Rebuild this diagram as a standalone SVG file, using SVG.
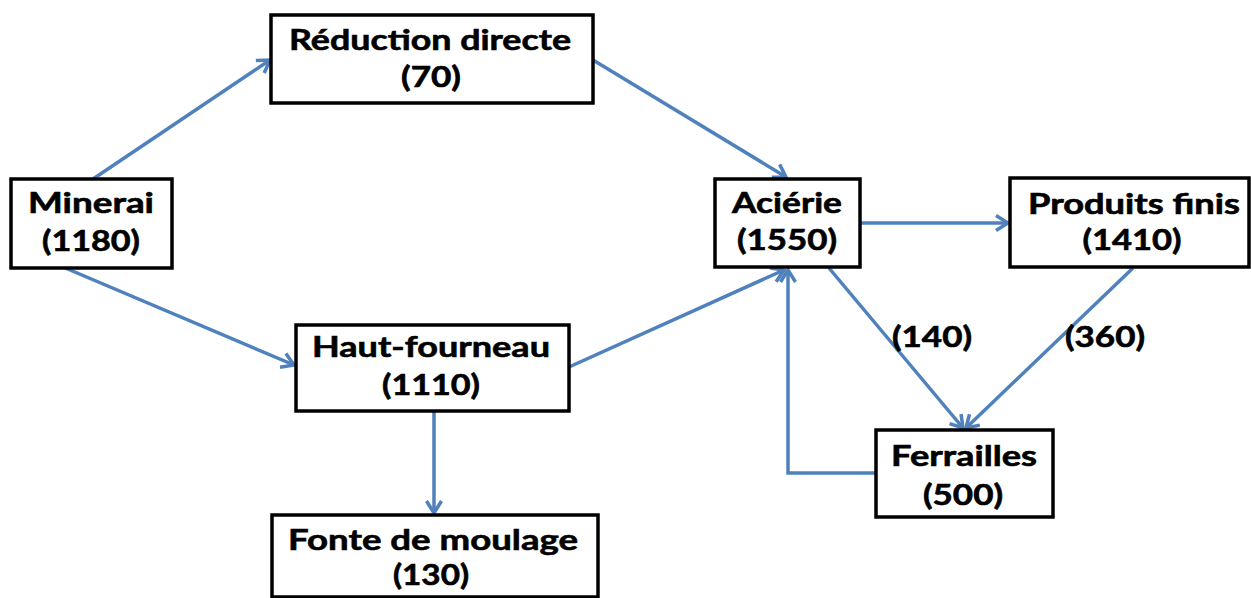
<svg xmlns="http://www.w3.org/2000/svg" width="1251" height="598" viewBox="0 0 1251 598">
<style>
.box{fill:#fff;stroke:#000;stroke-width:3.5}
.t{font-family:Lato,"Open Sans","Liberation Sans",sans-serif;font-weight:700;font-size:28px;fill:#000;stroke:#000;stroke-width:0.6;text-anchor:middle}
.c{fill:none;stroke:#4F81BD;stroke-width:3.5;marker-end:url(#ah)}
</style>
<defs>
<marker id="ah" markerUnits="userSpaceOnUse" viewBox="0 0 16 18" markerWidth="16" markerHeight="18" refX="14" refY="9" orient="auto">
<path d="M2,1.5 L14,9 L2,16.5" fill="none" stroke="#4F81BD" stroke-width="3.5"/>
</marker>
</defs>
<rect width="1251" height="598" fill="#fff"/>
<g id="connectors">
<line class="c" x1="93" y1="179" x2="270" y2="60"/>
<line class="c" x1="63" y1="267" x2="294" y2="365"/>
<line class="c" x1="593" y1="60" x2="786" y2="177"/>
<line class="c" x1="569" y1="367" x2="784" y2="270"/>
<line class="c" x1="434" y1="412" x2="434" y2="513"/>
<line class="c" x1="861" y1="223" x2="1008" y2="223"/>
<line class="c" x1="829" y1="268" x2="963" y2="428"/>
<line class="c" x1="1133" y1="268" x2="966" y2="428"/>
<polyline class="c" points="876,473 788,473 788,270"/>
<text class="t" x="932" y="347" textLength="80" lengthAdjust="spacingAndGlyphs">(140)</text>
<text class="t" x="1105" y="347" textLength="80" lengthAdjust="spacingAndGlyphs">(360)</text>
</g>
<g id="minerai">
<rect class="box" x="11" y="179" width="161" height="89"/>
<text class="t" x="91" y="213" textLength="126" lengthAdjust="spacingAndGlyphs">Minerai</text>
<text class="t" x="91" y="251" textLength="98" lengthAdjust="spacingAndGlyphs">(1180)</text>
</g>
<g id="reduction">
<rect class="box" x="271" y="15" width="322" height="88"/>
<text class="t" x="430" y="50" textLength="282" lengthAdjust="spacingAndGlyphs">Réduction directe</text>
<text class="t" x="431" y="87" textLength="60" lengthAdjust="spacingAndGlyphs">(70)</text>
</g>
<g id="haut-fourneau">
<rect class="box" x="296" y="325" width="273" height="86"/>
<text class="t" x="431" y="357" textLength="238" lengthAdjust="spacingAndGlyphs">Haut-fourneau</text>
<text class="t" x="431" y="395" textLength="98" lengthAdjust="spacingAndGlyphs">(1110)</text>
</g>
<g id="fonte">
<rect class="box" x="272" y="515" width="326" height="82"/>
<text class="t" x="433" y="550" textLength="290" lengthAdjust="spacingAndGlyphs">Fonte de moulage</text>
<text class="t" x="431" y="585" textLength="76" lengthAdjust="spacingAndGlyphs">(130)</text>
</g>
<g id="acierie">
<rect class="box" x="715" y="179" width="145" height="88"/>
<text class="t" x="787" y="213" textLength="110" lengthAdjust="spacingAndGlyphs">Aciérie</text>
<text class="t" x="787" y="250" textLength="100" lengthAdjust="spacingAndGlyphs">(1550)</text>
</g>
<g id="produits">
<rect class="box" x="1010" y="178" width="239" height="89"/>
<text class="t" x="1134" y="214" textLength="212" lengthAdjust="spacingAndGlyphs">Produits finis</text>
<text class="t" x="1132" y="250" textLength="99" lengthAdjust="spacingAndGlyphs">(1410)</text>
</g>
<g id="ferrailles">
<rect class="box" x="876" y="430" width="177" height="87"/>
<text class="t" x="964" y="466" textLength="146" lengthAdjust="spacingAndGlyphs">Ferrailles</text>
<text class="t" x="963" y="505" textLength="80" lengthAdjust="spacingAndGlyphs">(500)</text>
</g>
</svg>
